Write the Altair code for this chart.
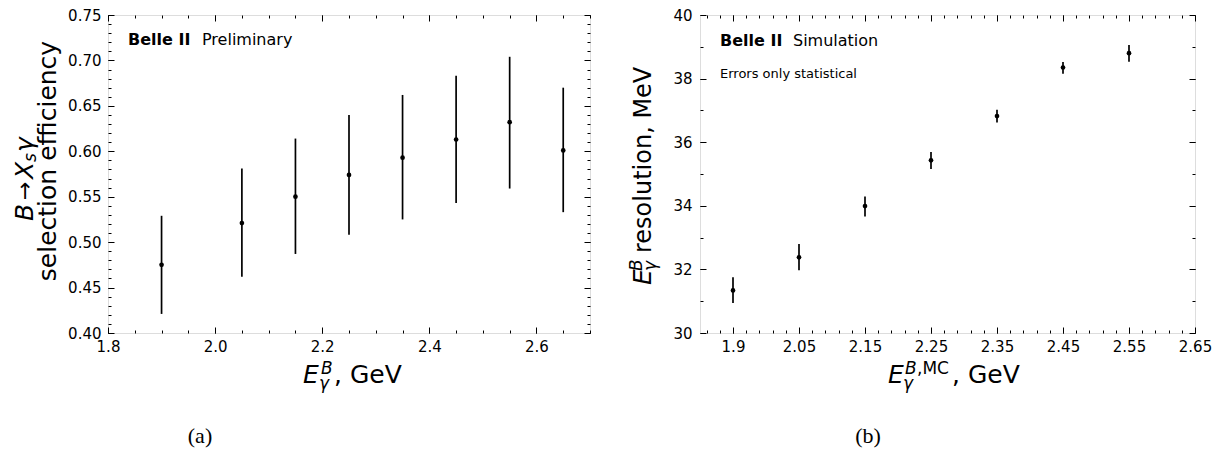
import altair as alt
import pandas as pd

FONT = "DejaVu Sans"
SERIF = "Liberation Serif"

# ---------------- panel (a): B -> Xs gamma selection efficiency ----------------
eff_energy = [1.90, 2.05, 2.15, 2.25, 2.35, 2.45, 2.55, 2.65]
eff_value = [0.475, 0.521, 0.550, 0.574, 0.593, 0.613, 0.632, 0.601]
eff_low = [0.421, 0.462, 0.487, 0.508, 0.525, 0.543, 0.559, 0.533]
eff_high = [0.529, 0.581, 0.614, 0.640, 0.662, 0.683, 0.704, 0.670]

a_x_domain = [1.8, 2.7]
a_y_domain = [0.40, 0.75]
a_x_major = [1.8, 2.0, 2.2, 2.4, 2.6]
a_x_minor = [round(1.8 + 0.05 * i, 2) for i in range(19)]
a_y_major = [round(0.40 + 0.05 * i, 2) for i in range(8)]
a_y_minor = [round(0.40 + 0.01 * i, 2) for i in range(36)]

# ---------------- panel (b): photon energy resolution ----------------
res_bin_pos = [1.95, 2.05, 2.15, 2.25, 2.35, 2.45, 2.55]
res_value = [31.34, 32.38, 33.99, 35.43, 36.82, 38.35, 38.80]
res_low = [30.94, 31.97, 33.66, 35.16, 36.62, 38.15, 38.53]
res_high = [31.75, 32.80, 34.29, 35.69, 37.02, 38.52, 39.06]

b_x_domain = [1.90, 2.65]
b_y_domain = [30, 40]
b_tick_pos = [1.95, 2.05, 2.15, 2.25, 2.35, 2.45, 2.55, 2.65]
b_tick_text = ["1.9", "2.05", "2.15", "2.25", "2.35", "2.45", "2.55", "2.65"]
b_x_minor = [round(1.91 + 0.02 * i, 2) for i in range(37)]
b_y_major = [30, 32, 34, 36, 38, 40]
b_y_minor = list(range(30, 41))

# ---------------- texts ----------------
a_brand, a_status = "Belle II", "Preliminary"
b_brand, b_status, b_note = "Belle II", "Simulation", "Errors only statistical"
a_ytitle_line2 = "selection efficiency"
b_ytitle_rest = "resolution, MeV"
gev_text = ", GeV"
a_caption, b_caption = "(a)", "(b)"

A_W, A_H = 482, 318
B_W, B_H = 495, 318


def axis(orient, values, size, offset=None, labels=False, fmt=None, expr=None, pad=None):
    kw = dict(orient=orient, values=values, title=None, grid=False, domain=False,
              labels=labels, ticks=size > 0, tickSize=size, tickColor="black", tickWidth=1)
    if offset is not None:
        kw["offset"] = offset
    if labels:
        kw.update(labelFont=FONT, labelFontSize=15, labelColor="black",
                  labelPadding=pad, labelFlush=False, labelOverlap=False)
        if fmt:
            kw["format"] = fmt
        if expr:
            kw["labelExpr"] = expr
    return alt.Axis(**kw)


def txt(s, x, y, size, italic=False, bold=False, angle=0, align="left",
        baseline="alphabetic", font=FONT):
    kw = dict(font=font, fontSize=size, color="black", align=align, baseline=baseline)
    if italic:
        kw["fontStyle"] = "italic"
    if bold:
        kw["fontWeight"] = "bold"
    if angle:
        kw["angle"] = angle
    return alt.Chart(pd.DataFrame({"t": [s]})).mark_text(**kw).encode(
        x=alt.value(x), y=alt.value(y), text="t:N")


def panel(df, W, H, xdom, ydom, xmaj, xmin, ymaj, ymin, xfmt, yfmt, xexpr, ypad, texts):
    xs = alt.Scale(domain=xdom, nice=False, zero=False)
    ys = alt.Scale(domain=ydom, nice=False, zero=False)
    base = alt.Chart(df)

    def X(ax):
        return alt.X("x:Q", scale=xs, axis=ax)

    def Y(field, ax):
        return alt.Y(f"{field}:Q", scale=ys, axis=ax)

    err = base.mark_rule(color="black", strokeWidth=1.7).encode(
        x=X(axis("bottom", xmaj, 0, labels=True, fmt=xfmt, expr=xexpr, pad=6)),
        y=Y("lo", axis("left", ymaj, 0, labels=True, fmt=yfmt, pad=ypad)),
        y2="hi:Q")
    pts = base.mark_circle(color="black", size=22, opacity=1).encode(
        x=X(axis("top", xmaj, 6, offset=-H)),
        y=Y("v", axis("right", ymaj, 6, offset=-W)))
    m1 = base.mark_point(opacity=0, size=1).encode(
        x=X(axis("top", xmin, 3, offset=-H)),
        y=Y("v", axis("right", ymin, 3, offset=-W)))
    m2 = base.mark_point(opacity=0, size=1).encode(
        x=X(axis("bottom", xmaj, 6, offset=-H)),
        y=Y("v", axis("left", ymaj, 6, offset=-W)))
    m3 = base.mark_point(opacity=0, size=1).encode(
        x=X(axis("bottom", xmin, 3, offset=-H)),
        y=Y("v", axis("left", ymin, 3, offset=-W)))
    return alt.layer(err, pts, m1, m2, m3, *texts).resolve_axis(
        x="independent", y="independent").properties(width=W, height=H)


df_a = pd.DataFrame({"x": eff_energy, "v": eff_value, "lo": eff_low, "hi": eff_high})
df_b = pd.DataFrame({"x": res_bin_pos, "v": res_value, "lo": res_low, "hi": res_high})

texts_a = [
    txt(a_brand, 20, 25, 16, bold=True, baseline="middle"),
    txt(a_status, 94, 25, 16, baseline="middle"),
    # x title  E_gamma^B, GeV
    txt("E", 195, A_H + 50, 25, italic=True),
    txt("B", 213, A_H + 41, 17, italic=True),
    txt("γ", 211, A_H + 56, 17, italic=True),
    txt(gev_text, 226, A_H + 50, 25),
    # y title line 1: B -> X_s gamma
    txt("B", -75, 206, 25, italic=True, angle=270),
    txt("→", -76, 185, 22, angle=270),
    txt("X", -75, 164, 25, italic=True, angle=270),
    txt("s", -72, 147, 17, italic=True, angle=270),
    txt("γ", -75, 137, 25, italic=True, angle=270),
    # y title line 2
    txt(a_ytitle_line2, -52, 146, 25, angle=270, align="center"),
    txt(a_caption, 92, 421, 22, align="center", baseline="middle", font=SERIF),
]

expr_b = "[" + ",".join(f"'{t}'" for t in b_tick_text) + "][indexof([" + \
    ",".join(str(round(p * 100)) for p in b_tick_pos) + "], round(datum.value*100))]"

texts_b = [
    txt(b_brand, 20, 26, 16, bold=True, baseline="middle"),
    txt(b_status, 93, 26, 16, baseline="middle"),
    txt(b_note, 20, 59, 13, baseline="middle"),
    # x title E_gamma^{B,MC}, GeV
    txt("E", 188, B_H + 50, 25, italic=True),
    txt("B", 205, B_H + 41, 17, italic=True),
    txt(",MC", 217, B_H + 41, 17),
    txt("γ", 203, B_H + 56, 17, italic=True),
    txt(gev_text, 252, B_H + 50, 25),
    # y title E_gamma^B resolution, MeV
    txt("E", -49, 270, 25, italic=True, angle=270),
    txt("B", -58, 256, 17, italic=True, angle=270),
    txt("γ", -44, 256, 17, italic=True, angle=270),
    txt(b_ytitle_rest, -49, 238, 24, angle=270),
    txt(b_caption, 168, 421, 22, align="center", baseline="middle", font=SERIF),
]

pa = panel(df_a, A_W, A_H, a_x_domain, a_y_domain, a_x_major, a_x_minor,
           a_y_major, a_y_minor, ".1f", ".2f", None, 7, texts_a)
pb = panel(df_b, B_W, B_H, b_x_domain, b_y_domain, b_tick_pos, b_x_minor,
           b_y_major, b_y_minor, None, "d", expr_b, 8, texts_b)

chart = alt.hconcat(pa, pb, spacing=36).properties(
    padding={"left": 4, "top": -1, "right": 0, "bottom": 0}
).configure_view(stroke="black", strokeWidth=1.4).configure(font=FONT)

chart.save("out.html", embed_options={"renderer": "svg", "actions": False})
